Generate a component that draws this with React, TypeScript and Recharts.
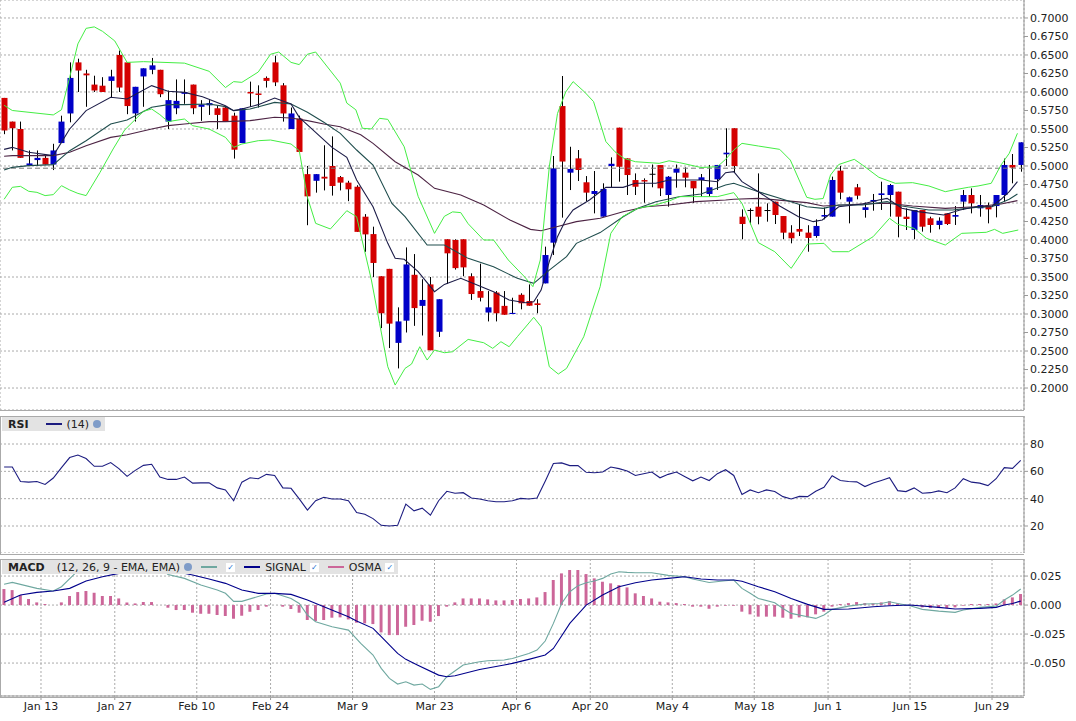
import React from 'react';
import { ComposedChart, Bar, Line, XAxis, YAxis, CartesianGrid, ReferenceLine } from 'recharts';

// candles: [open, high, low, close], one per trading day from Jan 6
const candles: number[][] = [
  [0.592, 0.592, 0.543, 0.548], [0.56, 0.56, 0.521, 0.551], [0.55, 0.56, 0.511, 0.511], [0.5005, 0.521, 0.5005, 0.5035],
  [0.508, 0.521, 0.5, 0.511], [0.511, 0.515, 0.502, 0.502], [0.502, 0.53, 0.4945, 0.521], [0.531, 0.568, 0.531, 0.56],
  [0.571, 0.64, 0.559, 0.619], [0.64, 0.645, 0.6, 0.629], [0.625, 0.63, 0.58, 0.6225], [0.61, 0.622, 0.6, 0.602],
  [0.6085, 0.62, 0.6, 0.6], [0.615, 0.63, 0.593, 0.621], [0.65, 0.656, 0.6, 0.606], [0.64, 0.64, 0.57, 0.581],
  [0.571, 0.607, 0.56, 0.607], [0.621, 0.632, 0.58, 0.632], [0.63, 0.646, 0.624, 0.636], [0.63, 0.63, 0.593, 0.597],
  [0.56, 0.602, 0.55, 0.589], [0.578, 0.617, 0.57, 0.588], [0.5975, 0.617, 0.584, 0.6], [0.61, 0.61, 0.57, 0.578],
  [0.58, 0.589, 0.561, 0.583], [0.582, 0.589, 0.569, 0.585], [0.578, 0.581, 0.55, 0.569], [0.579, 0.581, 0.56, 0.56],
  [0.568, 0.572, 0.51, 0.522], [0.531, 0.578, 0.531, 0.578], [0.6, 0.614, 0.58, 0.598], [0.598, 0.609, 0.579, 0.596],
  [0.619, 0.621, 0.606, 0.615], [0.64, 0.649, 0.608, 0.613], [0.609, 0.612, 0.56, 0.571], [0.55, 0.579, 0.55, 0.571],
  [0.564, 0.568, 0.519, 0.519], [0.489, 0.5, 0.42, 0.459], [0.48, 0.489, 0.464, 0.489], [0.4855, 0.528, 0.467, 0.483],
  [0.5, 0.54, 0.46, 0.473], [0.485, 0.4865, 0.467, 0.4775], [0.4775, 0.48, 0.4525, 0.4685], [0.472, 0.474, 0.411, 0.411],
  [0.4315, 0.435, 0.384, 0.4076], [0.408, 0.418, 0.35, 0.369], [0.351, 0.351, 0.281, 0.301], [0.361, 0.361, 0.254, 0.287],
  [0.261, 0.309, 0.2265, 0.29], [0.291, 0.39, 0.275, 0.367], [0.353, 0.381, 0.284, 0.308], [0.311, 0.347, 0.271, 0.319],
  [0.34, 0.35, 0.251, 0.251], [0.276, 0.32, 0.269, 0.32], [0.401, 0.401, 0.3405, 0.382], [0.4, 0.401, 0.36, 0.362],
  [0.401, 0.401, 0.351, 0.363], [0.351, 0.355, 0.319, 0.327], [0.331, 0.368, 0.317, 0.322], [0.302, 0.331, 0.29, 0.309],
  [0.329, 0.331, 0.29, 0.301], [0.311, 0.331, 0.299, 0.299], [0.3, 0.322, 0.3, 0.3015], [0.326, 0.328, 0.3063, 0.3145],
  [0.3175, 0.34, 0.311, 0.3112], [0.3144, 0.32, 0.301, 0.3122], [0.3414, 0.391, 0.3414, 0.3797], [0.3964, 0.5135, 0.3797, 0.4968],
  [0.581, 0.6216, 0.4302, 0.506], [0.491, 0.526, 0.4675, 0.496], [0.5103, 0.5216, 0.4797, 0.4946], [0.478, 0.4864, 0.4527, 0.464],
  [0.4622, 0.4932, 0.436, 0.4662], [0.4315, 0.4766, 0.4315, 0.469], [0.5, 0.5117, 0.4707, 0.503], [0.5518, 0.5518, 0.4788, 0.499],
  [0.5103, 0.5103, 0.4608, 0.4878], [0.481, 0.49, 0.4608, 0.472], [0.481, 0.4833, 0.4504, 0.479], [0.4895, 0.502, 0.4712, 0.4895],
  [0.5013, 0.5013, 0.4594, 0.4698], [0.4608, 0.4864, 0.445, 0.4855], [0.491, 0.502, 0.4707, 0.4963], [0.491, 0.4982, 0.4712, 0.4842],
  [0.4797, 0.4797, 0.45, 0.4698], [0.4811, 0.4892, 0.4586, 0.4847], [0.4622, 0.5014, 0.4586, 0.4712], [0.482, 0.5014, 0.4676, 0.5014],
  [0.5158, 0.551, 0.5, 0.518], [0.551, 0.551, 0.491, 0.5], [0.4315, 0.4414, 0.401, 0.4216], [0.4406, 0.4428, 0.4212, 0.4406],
  [0.445, 0.49, 0.4212, 0.4315], [0.4405, 0.4495, 0.4248, 0.4405], [0.4518, 0.4518, 0.4216, 0.4338], [0.4324, 0.4324, 0.401, 0.4099],
  [0.41, 0.42, 0.3955, 0.4023], [0.4149, 0.4487, 0.4054, 0.4113], [0.41, 0.42, 0.3842, 0.4028], [0.4054, 0.4279, 0.403, 0.419],
  [0.4316, 0.4437, 0.4279, 0.4338], [0.4316, 0.4856, 0.4316, 0.4811], [0.4937, 0.5, 0.455, 0.464], [0.4518, 0.4586, 0.4225, 0.4577],
  [0.4712, 0.4757, 0.455, 0.4599], [0.4406, 0.4505, 0.4302, 0.4442], [0.4518, 0.4622, 0.4396, 0.4541], [0.4608, 0.4788, 0.4406, 0.463],
  [0.4608, 0.4757, 0.4316, 0.4743], [0.4653, 0.4653, 0.4036, 0.4315], [0.4315, 0.4428, 0.4135, 0.4284], [0.4135, 0.4405, 0.401, 0.4405],
  [0.4405, 0.4405, 0.4113, 0.418], [0.4293, 0.4315, 0.4099, 0.4203], [0.4203, 0.4306, 0.4144, 0.4261], [0.436, 0.436, 0.4203, 0.4216],
  [0.4315, 0.4459, 0.4203, 0.4338], [0.4518, 0.4676, 0.4405, 0.4608], [0.4608, 0.4698, 0.436, 0.4496], [0.4428, 0.4608, 0.4315, 0.4473],
  [0.4459, 0.4505, 0.4225, 0.4414], [0.4459, 0.4608, 0.4306, 0.4608], [0.4608, 0.51, 0.4518, 0.5014], [0.5014, 0.5162, 0.4766, 0.4978],
  [0.5014, 0.532, 0.4923, 0.532],
];

// overlays as [dayIndex, value]
const bbUpper: number[][] = [
  [0, 0.582], [1, 0.575], [6, 0.569], [7, 0.576], [8, 0.62], [9, 0.665], [10, 0.686], [11, 0.688], [12, 0.682], [13.5, 0.669],
  [15, 0.64], [17, 0.641], [22, 0.639], [25, 0.628], [27, 0.606], [28, 0.614], [29, 0.613], [31, 0.627], [32.5, 0.651], [33.5, 0.654],
  [35, 0.64], [36, 0.637], [37, 0.651], [38, 0.654], [41, 0.612], [41.8, 0.585], [42.9, 0.576], [43.7, 0.551], [44.8, 0.55],
  [45.8, 0.5644], [46.8, 0.563], [48.8, 0.526], [50.5, 0.459], [52.5, 0.409], [53.7, 0.432], [54.7, 0.438], [55.7, 0.437],
  [56.6, 0.422], [58.5, 0.4], [59.7, 0.4], [61.5, 0.373], [63.5, 0.35], [64.5, 0.337], [65.4, 0.373], [66.5, 0.499], [67.5, 0.571],
  [68.5, 0.6], [69.4, 0.614], [70.8, 0.6], [71.9, 0.587], [73.4, 0.533], [74.5, 0.5193], [75.6, 0.5104], [77, 0.5058], [79.9, 0.5036],
  [81.1, 0.507], [82.4, 0.5045], [85, 0.498], [87, 0.499], [88, 0.509], [89, 0.5216], [90, 0.5306], [92, 0.527], [94.6, 0.5225],
  [95.9, 0.508], [97.9, 0.4577], [98.9, 0.455], [99.9, 0.456], [100.8, 0.4878], [101.8, 0.502], [103.7, 0.509], [104.7, 0.5013],
  [106.7, 0.4847], [108.7, 0.4766], [110.8, 0.4775], [112.8, 0.473], [114.8, 0.4653], [115.8, 0.4676], [117.6, 0.4712],
  [118.8, 0.473], [120.4, 0.4766], [121.6, 0.5014], [122.6, 0.5171], [123.6, 0.5442],
];
const bbLower: number[][] = [
  [0, 0.455], [1, 0.4712], [2, 0.4725], [3, 0.4658], [4, 0.4644], [5, 0.46], [6, 0.4613], [7, 0.4734], [8, 0.4676], [9, 0.463],
  [10, 0.46], [11.7, 0.4914], [13.3, 0.523], [14.7, 0.5486], [17, 0.5739], [18, 0.577], [19, 0.5694], [20, 0.56], [22, 0.5635],
  [23, 0.5545], [25, 0.55], [27, 0.5387], [28, 0.5252], [29, 0.5297], [31, 0.5342], [32.5, 0.5351], [35, 0.5297], [36, 0.5207],
  [37, 0.4577], [38, 0.4225], [39.8, 0.4149], [41.8, 0.4396], [43, 0.4315], [44.8, 0.3459], [45.8, 0.2874], [46.8, 0.2288],
  [47.7, 0.204], [48.9, 0.2265], [49.7, 0.2324], [50.7, 0.2558], [51.6, 0.2378], [52.5, 0.2513], [53.7, 0.2477], [54.7, 0.249],
  [56.6, 0.2657], [58.5, 0.2612], [59.6, 0.2536], [60.6, 0.2626], [61.6, 0.2558], [62.6, 0.2693], [64.6, 0.2955], [65.5, 0.2829],
  [66.5, 0.2288], [67.6, 0.2189], [68.6, 0.2265], [70.7, 0.2693], [72.7, 0.3369], [74, 0.409], [75.4, 0.4315], [77.3, 0.4428],
  [79.4, 0.4473], [81.2, 0.4531], [82.4, 0.4586], [87, 0.4586], [89, 0.464], [90, 0.4496], [92, 0.3964], [94, 0.3842], [96, 0.3617],
  [98, 0.3946], [100, 0.3955], [101, 0.3842], [103, 0.3842], [106, 0.4045], [108, 0.4293], [109, 0.4212], [111, 0.4158],
  [112.5, 0.4023], [114.8, 0.3932], [116.8, 0.409], [119.8, 0.4104], [120.8, 0.4144], [121.8, 0.409], [123.7, 0.4135],
];
const maShort: number[][] = [
  [0, 0.5225], [1, 0.5252], [3, 0.5185], [6, 0.514], [8, 0.55], [10, 0.5748], [13, 0.5928], [15, 0.5905], [18, 0.6086], [20, 0.6009],
  [22, 0.5995], [24.2, 0.5937], [27, 0.5815], [28, 0.5748], [29, 0.577], [31, 0.5829], [33, 0.5919], [35, 0.5838], [36, 0.5658],
  [38, 0.5455], [40, 0.5252], [41.8, 0.5117], [43, 0.4811], [45, 0.445], [46.8, 0.3955], [47.7, 0.3752], [48.8, 0.3739],
  [50.5, 0.3572], [52.5, 0.3302], [53.7, 0.34], [55.7, 0.3482], [57.7, 0.3392], [59.7, 0.3302], [61.6, 0.3189], [63.6, 0.3153],
  [64.6, 0.3166], [65.5, 0.3324], [66.5, 0.3707], [67.5, 0.4045], [68.5, 0.427], [69.4, 0.4405], [71.4, 0.454], [73.4, 0.4711],
  [75.5, 0.4711], [77, 0.4766], [79.5, 0.4766], [81.1, 0.481], [83.2, 0.481], [85, 0.4811], [87, 0.4788], [88, 0.491],
  [89, 0.4923], [90, 0.4788], [92, 0.4653], [94.6, 0.4459], [96.9, 0.4315], [98.7, 0.4248], [99.8, 0.427], [101.8, 0.445],
  [104.7, 0.4487], [106.7, 0.4541], [107.7, 0.4563], [109.5, 0.4428], [111.5, 0.4383], [114.6, 0.4338], [116.6, 0.4405],
  [118.5, 0.445], [120.5, 0.4459], [121.6, 0.455], [122.6, 0.4653], [123.6, 0.4788],
];
const maMid: number[][] = [
  [0, 0.4945], [1, 0.4982], [3, 0.5005], [6, 0.5018], [8, 0.5207], [10, 0.5342], [13, 0.5568], [15, 0.5622], [18, 0.5793],
  [20, 0.5829], [22, 0.5829], [25, 0.5838], [27, 0.5802], [28, 0.5748], [30, 0.577], [33, 0.586], [35, 0.5838], [37, 0.5725],
  [39, 0.559], [41, 0.5441], [43, 0.5216], [45, 0.5013], [47.3, 0.4495], [48.9, 0.4315], [51.6, 0.3932], [53.7, 0.3932],
  [56.6, 0.3752], [59.7, 0.3639], [62.6, 0.3482], [64.6, 0.3414], [66.5, 0.3594], [68.6, 0.3775], [69.8, 0.3955], [72.7, 0.41],
  [75.5, 0.4315], [77.3, 0.4428], [79.5, 0.4518], [82.3, 0.4585], [85, 0.4622], [88, 0.4743], [89, 0.4766], [92, 0.4653],
  [94.6, 0.4563], [97.9, 0.445], [99.9, 0.4428], [101.8, 0.4473], [104.7, 0.4473], [107.7, 0.4518], [109.5, 0.4459],
  [112.8, 0.4405], [115.7, 0.4405], [118.5, 0.4441], [120.5, 0.445], [122.6, 0.455], [123.6, 0.4622],
];
const maLong: number[][] = [
  [0, 0.5132], [1, 0.514], [6, 0.514], [8, 0.5185], [10, 0.5275], [13, 0.5387], [15, 0.5423], [18, 0.55], [20, 0.5545],
  [22, 0.5567], [25, 0.5599], [27, 0.5599], [30, 0.5613], [33, 0.5658], [35, 0.5649], [37, 0.5613], [39, 0.5567], [41, 0.5531],
  [43.5, 0.5423], [45, 0.5306], [47.7, 0.5058], [50.5, 0.4878], [52.5, 0.4698], [55.7, 0.4608], [58.5, 0.4473], [61.7, 0.427],
  [64.2, 0.4144], [65.5, 0.4126], [67.4, 0.418], [69.8, 0.4248], [72.7, 0.4293], [75.5, 0.4383], [78.3, 0.445], [81.1, 0.4473],
  [84.4, 0.4518], [88, 0.4541], [89, 0.455], [92, 0.4563], [97.9, 0.4505], [99.9, 0.4459], [104.7, 0.4487], [107.7, 0.4496],
  [110.8, 0.4459], [114.8, 0.4428], [118.5, 0.445], [121.6, 0.4487], [123.6, 0.4532],
];

const rsi: number[] = [
  63.2, 63.2, 52.6, 52.1, 52.6, 50.4, 55.1, 62.7, 70.1, 71.9, 69.4, 63.7, 63.7, 66.4, 62.0, 56.3, 60.7, 64.4, 65.2, 55.8,
  54.1, 54.1, 55.8, 51.4, 51.6, 51.6, 47.9, 46.4, 38.5, 52.1, 55.3, 54.6, 57.8, 57.0, 47.9, 47.6, 39.8, 31.6, 38.5, 41.0,
  39.8, 39.8, 38.5, 29.9, 28.6, 25.4, 20.5, 20.0, 20.5, 36.0, 31.1, 33.1, 27.9, 38.5, 45.4, 44.0, 44.4, 40.5, 39.8, 38.5,
  37.8, 37.8, 38.5, 40.2, 39.8, 40.5, 52.8, 65.7, 66.2, 64.2, 64.2, 59.3, 59.0, 59.5, 63.2, 62.0, 60.2, 57.0, 58.3, 59.5,
  55.3, 57.8, 59.5, 56.3, 53.1, 55.8, 53.3, 58.3, 61.2, 57.0, 43.0, 46.4, 44.4, 46.4, 45.2, 41.5, 39.8, 41.7, 41.5, 45.4,
  48.4, 56.8, 53.3, 52.6, 52.3, 48.9, 51.4, 53.3, 55.3, 45.9, 45.2, 47.9, 44.0, 44.4, 45.7, 44.4, 47.9, 54.6, 52.1, 51.4,
  49.6, 54.6, 62.7, 62.2, 68.1,
];

const osma: number[] = [
  0.0138, 0.0129, 0.0086, 0.0052, 0.0023, 0.0009, 0, 0.0023, 0.0078, 0.0112, 0.0121, 0.0106, 0.0078, 0.0078, 0.0057, 0.0023,
  0.0014, 0.0026, 0.0026, 0, -0.0023, -0.0043, -0.0043, -0.0066, -0.0075, -0.0075, -0.0086, -0.0095, -0.0118, -0.0092, -0.0057,
  -0.0043, -0.0014, 0, -0.0014, -0.0034, -0.0066, -0.0129, -0.0138, -0.0129, -0.0109, -0.0106, -0.0124, -0.0152, -0.0158,
  -0.0164, -0.0236, -0.0259, -0.0259, -0.0187, -0.0172, -0.0135, -0.0144, -0.0095, -0.0014, 0.0023, 0.0057, 0.0057, 0.0057,
  0.0049, 0.004, 0.004, 0.0043, 0.0052, 0.0057, 0.0066, 0.0112, 0.0216, 0.0273, 0.0302, 0.0302, 0.0267, 0.023, 0.0201, 0.0187,
  0.0172, 0.0152, 0.0101, 0.0078, 0.0057, 0.0029, 0.0023, 0.0017, 0.0009, -0.0014, -0.0014, -0.0032, -0.0014, -0.0006, -0.0006,
  -0.0057, -0.008, -0.01, -0.01, -0.01, -0.0109, -0.0118, -0.0106, -0.0106, -0.008, -0.0057, -0.0014, 0.0009, 0.0017, 0.0026,
  0.0017, 0.0014, 0.0023, 0.0034, 0.0014, -0.0006, -0.0006, -0.002, -0.0026, -0.0026, -0.0026, -0.002, -0.0006, 0.0009, 0.0009,
  0.0009, 0.0014, 0.0049, 0.0066, 0.0095,
];

const macdLine: number[][] = [
  [0, 0.018], [1, 0.0195], [4, 0.0144], [6, 0.0121], [7, 0.0158], [9, 0.0296], [11, 0.0339], [13, 0.0345], [15, 0.0336],
  [17, 0.0331], [19, 0.0322], [20, 0.0264], [22, 0.023], [24, 0.0172], [26, 0.0129], [27, 0.0101], [28, 0.0032], [29, 0.0032],
  [32, 0.0095], [33, 0.0101], [35, 0.0057], [36, 0.0014], [37, -0.0086], [38, -0.0144], [40, -0.0187], [42, -0.0216],
  [43.5, -0.0331], [45, -0.0431], [46, -0.0546], [47, -0.0632], [48, -0.0681], [49, -0.0661], [50, -0.069], [51, -0.0681],
  [52, -0.0727], [53, -0.0704], [54, -0.0618], [56, -0.0517], [58, -0.0489], [59, -0.048], [61, -0.0474], [62, -0.046],
  [64, -0.0417], [65, -0.0388], [66, -0.031], [67, -0.0158], [68, 0.0014], [69, 0.0115], [70, 0.0167], [71, 0.0193],
  [72, 0.0207], [73, 0.023], [74, 0.0267], [75, 0.0287], [76, 0.0282], [77, 0.0279], [79, 0.0279], [81, 0.0256], [83, 0.0244],
  [84, 0.0224], [86, 0.0195], [88, 0.021], [89, 0.0216], [90, 0.0144], [91, 0.0101], [92, 0.0057], [94, 0.002], [95, -0.0029],
  [96, -0.0072], [98, -0.0101], [99, -0.0115], [100, -0.0086], [101, -0.0037], [103, -0.0009], [105, 0.0009], [107, 0.0014],
  [108, 0.0029], [109, 0.0014], [110.5, -0.0006], [112, -0.0037], [114, -0.0052], [116, -0.0063], [117, -0.0043], [119, -0.002],
  [121, -0.0009], [122, 0.0043], [123, 0.0086], [124, 0.0138],
];
const signalLine: number[][] = [
  [0, 0.0025], [2, 0.0086], [4, 0.0109], [6, 0.0121], [8, 0.0144], [10, 0.0207], [12, 0.0244], [14, 0.0273], [16, 0.0293],
  [18, 0.0302], [19, 0.0308], [21, 0.0287], [23, 0.0259], [25, 0.0224], [27, 0.0187], [29, 0.0129], [31, 0.0101], [33, 0.0101],
  [35, 0.0092], [37, 0.0043], [39, -0.0014], [42, -0.0101], [43, -0.0138], [45, -0.0201], [46, -0.0273], [48, -0.0417],
  [49, -0.0468], [50.4, -0.0517], [53, -0.0604], [54, -0.0618], [55, -0.0609], [58, -0.0555], [61, -0.0517], [62, -0.0503],
  [64, -0.0468], [66, -0.0431], [67, -0.0374], [69, -0.0158], [71, 0], [73, 0.0086], [75, 0.0158], [77, 0.0193], [79, 0.0216],
  [81, 0.023], [83, 0.0244], [85, 0.0224], [87, 0.0216], [89, 0.0216], [90, 0.0205], [92, 0.0158], [94, 0.0115], [96, 0.0057],
  [98, 0.0006], [100, -0.0037], [103, -0.0034], [106, -0.0014], [108, -0.0006], [110.5, 0], [114, -0.002], [116, -0.0034],
  [119, -0.0029], [121, -0.002], [122, 0], [123, 0.0014], [124, 0.0034],
];

const dateTicks = [4.5, 13.5, 23.5, 32.5, 42.5, 52.5, 62.5, 71.5, 81.5, 91.5, 100.5, 110.5, 120.5];
const dateLabels = ['Jan 13', 'Jan 27', 'Feb 10', 'Feb 24', 'Mar 9', 'Mar 23', 'Apr 6', 'Apr 20', 'May 4', 'May 18', 'Jun 1', 'Jun 15', 'Jun 29'];
const priceTicks = [0.2, 0.225, 0.25, 0.275, 0.3, 0.325, 0.35, 0.375, 0.4, 0.425, 0.45, 0.475, 0.5, 0.525, 0.55, 0.575, 0.6, 0.625, 0.65, 0.675, 0.7];
const rsiTicks = [20, 40, 60, 80];
const macdTicks = [-0.05, -0.025, 0, 0.025];

const rows = candles.map(([o, h, l, c], i) => ({ i, o, h, l, c, range: [l, h], rsi: rsi[i], osma: osma[i] }));
const toPts = (a: number[][]) => a.map(([i, v]) => ({ i, v }));

const FONT = '"DejaVu Sans", Verdana, sans-serif';
const W = 1076;
const XDOM: [number, number] = [-0.5, 124.4];
const tickStyle = { fontSize: 11, fill: '#222', fontFamily: FONT };
const grid = <CartesianGrid stroke="#aaa" strokeDasharray="2 2" />;

const Candle = (props: any) => {
  const { x, y, width, height, payload } = props;
  const { o, h, l, c } = payload;
  const cx = Math.round(x + width / 2) + 0.5;
  const py = (v: number) => (h === l ? y : y + ((h - v) / (h - l)) * height);
  const top = Math.min(py(o), py(c));
  const bh = Math.max(1, Math.abs(py(o) - py(c)));
  const fill = c > o ? '#0000c8' : c < o ? '#d40000' : '#000';
  return (
    <g>
      <line x1={cx} x2={cx} y1={y} y2={y + height} stroke="#000" strokeWidth={1} />
      <rect x={cx - 3} y={top} width={6} height={bh} fill={fill} />
    </g>
  );
};

const hiddenX = (
  <XAxis dataKey="i" type="number" domain={XDOM} allowDataOverflow ticks={dateTicks} height={0} tick={false} axisLine={false} tickLine={false} />
);

const series = (data: number[][], color: string, w = 1.1) => (
  <Line data={toPts(data)} dataKey="v" stroke={color} strokeWidth={w} dot={false} activeDot={false} legendType="none" isAnimationActive={false} />
);

const Legend = ({ top, children }: { top: number; children: React.ReactNode }) => (
  <div style={{ position: 'absolute', left: 2, top, height: 14, background: '#e3e3e3', display: 'flex', alignItems: 'center', fontFamily: FONT, fontSize: 11, color: '#222', whiteSpace: 'nowrap' }}>
    {children}
  </div>
);
const Swatch = ({ color }: { color: string }) => (
  <span style={{ display: 'inline-block', width: 16, height: 2, background: color, margin: '0 5px' }} />
);
const Check = () => (
  <span style={{ display: 'inline-block', width: 9, height: 9, background: '#fff', color: '#1a6fd0', fontSize: 8, lineHeight: '9px', textAlign: 'center', margin: '0 4px', fontWeight: 700 }}>✓</span>
);
const Gear = () => (
  <span style={{ display: 'inline-block', width: 8, height: 8, borderRadius: 4, background: '#7f9cc8', margin: '0 4px' }} />
);

const App = () => (
  <div style={{ position: 'absolute', left: 0, top: 0, width: W, height: 721, background: '#fff', overflow: 'hidden' }}>
    <div style={{ position: 'absolute', left: 0, top: 0 }}>
      <ComposedChart width={W} height={410} data={rows} margin={{ top: 0, right: 0, left: 0, bottom: 0 }}>
        {grid}
        {hiddenX}
        <YAxis orientation="right" width={52} domain={[0.1703, 0.7243]} ticks={priceTicks} tickFormatter={(v: number) => v.toFixed(4)} tick={tickStyle} tickSize={4} axisLine={{ stroke: '#999' }} tickLine={{ stroke: '#999' }} allowDataOverflow />
        <ReferenceLine y={0.497} stroke="#777" strokeDasharray="5 3" />
        {series(maLong, '#4d2444')}
        {series(maMid, '#1f4d4d')}
        {series(maShort, '#1c1c48')}
        {series(bbUpper, '#44ee44', 1)}
        {series(bbLower, '#44ee44', 1)}
        <Bar dataKey="range" barSize={6} shape={<Candle />} activeBar={false} isAnimationActive={false} />
      </ComposedChart>
    </div>
    <div style={{ position: 'absolute', left: 0, top: 416 }}>
      <ComposedChart width={W} height={137} data={rows} margin={{ top: 0, right: 0, left: 0, bottom: 0 }}>
        {grid}
        {hiddenX}
        <YAxis orientation="right" width={52} domain={[0.25, 100.5]} ticks={rsiTicks} tick={tickStyle} tickSize={4} axisLine={{ stroke: '#999' }} tickLine={{ stroke: '#999' }} />
        <Line dataKey="rsi" stroke="#1c1c80" strokeWidth={1.1} dot={false} activeDot={false} isAnimationActive={false} />
      </ComposedChart>
    </div>
    <div style={{ position: 'absolute', left: 0, top: 559 }}>
      <ComposedChart width={W} height={160} data={rows} margin={{ top: 0, right: 0, left: 0, bottom: 0 }}>
        {grid}
        <XAxis dataKey="i" type="number" domain={XDOM} allowDataOverflow ticks={dateTicks} height={23} tickFormatter={(v: number) => dateLabels[dateTicks.indexOf(v)] ?? ''} tick={tickStyle} tickSize={4} axisLine={{ stroke: '#999' }} tickLine={{ stroke: '#999' }} />
        <YAxis orientation="right" width={52} domain={[-0.0784, 0.0397]} ticks={macdTicks} tickFormatter={(v: number) => v.toFixed(3)} tick={tickStyle} tickSize={4} axisLine={{ stroke: '#999' }} tickLine={{ stroke: '#999' }} allowDataOverflow />
        <Bar dataKey="osma" barSize={6} fill="#cc6699" activeBar={false} isAnimationActive={false} />
        {series(macdLine, '#6fa8a0')}
        {series(signalLine, '#00008b')}
      </ComposedChart>
    </div>
    <div style={{ position: 'absolute', left: 0, top: 410, width: 1024, height: 0, borderTop: '1px solid #aaa' }} />
    <div style={{ position: 'absolute', left: 0, top: 416, width: 1023, height: 137, border: '1px solid #aaa', borderRight: 'none', pointerEvents: 'none' }} />
    <div style={{ position: 'absolute', left: 0, top: 559, width: 1023, height: 137, border: '1px solid #aaa', borderRight: 'none', pointerEvents: 'none' }} />
    <Legend top={417}>
      <b style={{ padding: '0 12px 0 6px' }}>RSI</b>
      <Swatch color="#1c1c80" />(14)<Gear />
    </Legend>
    <Legend top={560}>
      <b style={{ padding: '0 12px 0 6px' }}>MACD</b>
      <span>(12, 26, 9 - EMA, EMA)</span><Gear />
      <Swatch color="#6fa8a0" /><Check />
      <Swatch color="#00008b" />SIGNAL<Check />
      <Swatch color="#cc6699" />OSMA<Check />
    </Legend>
  </div>
);

export default App;
